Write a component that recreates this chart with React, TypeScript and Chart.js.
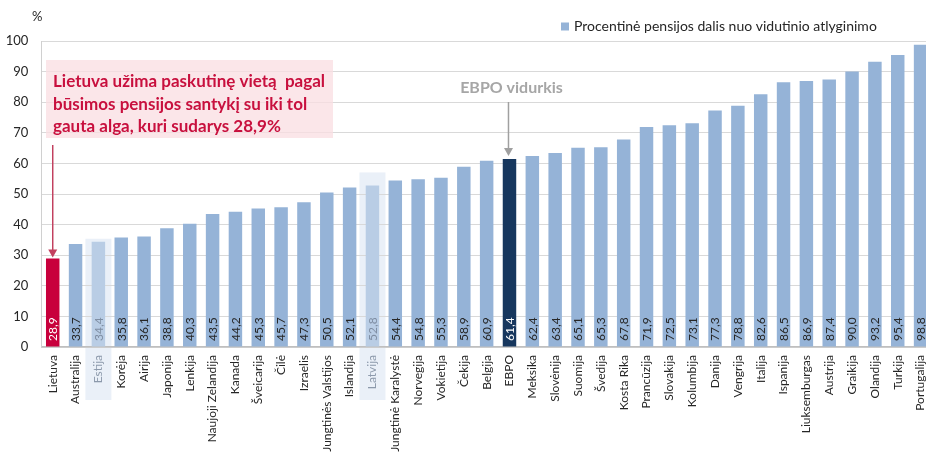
import React, { useEffect, useRef } from "react";
import { Chart, registerables } from "chart.js";

Chart.register(...registerables);

const categories = [
  "Lietuva", "Australija", "Estija", "Korėja", "Airija", "Japonija", "Lenkija",
  "Naujoji Zelandija", "Kanada", "Šveicarija", "Čilė", "Izraelis",
  "Jungtinės Valstijos", "Islandija", "Latvija", "Jungtinė Karalystė", "Norvegija",
  "Vokietija", "Čekija", "Belgija", "EBPO", "Meksika", "Slovėnija", "Suomija",
  "Švedija", "Kosta Rika", "Prancūzija", "Slovakija", "Kolumbija", "Danija",
  "Vengrija", "Italija", "Ispanija", "Liuksemburgas", "Austrija", "Graikija",
  "Olandija", "Turkija", "Portugalija",
];

const values = [
  28.9, 33.7, 34.4, 35.8, 36.1, 38.8, 40.3, 43.5, 44.2, 45.3, 45.7, 47.3,
  50.5, 52.1, 52.8, 54.4, 54.8, 55.3, 58.9, 60.9, 61.4, 62.4, 63.4, 65.1,
  65.3, 67.8, 71.9, 72.5, 73.1, 77.3, 78.8, 82.6, 86.5, 86.9, 87.4, 90.0,
  93.2, 95.4, 98.8,
];

const yTicks = [0, 10, 20, 30, 40, 50, 60, 70, 80, 90, 100];

const seriesLabel = "Procentinė pensijos dalis nuo vidutinio atlyginimo";
const focusCountry = "Lietuva";
const averageName = "EBPO";
const neighbours = ["Estija", "Latvija"];
const noteLines = [
  "Lietuva užima paskutinę vietą  pagal",
  "būsimos pensijos santykį su iki tol",
  "gauta alga, kuri sudarys 28,9%",
];
const averageNote = "EBPO vidurkis";

const FONT = "Lato, 'Open Sans', sans-serif";
const C_BAR = "#95b3d7";
const C_LIGHT = "#b9cde5";
const C_FOCUS = "#c8003c";
const C_AVG = "#17375e";
const C_TEXT = "#262626";

const fmt = (v: number) => v.toFixed(1).replace(".", ",");

function arrow(ctx: CanvasRenderingContext2D, x: number, y1: number, y2: number, color: string) {
  ctx.save();
  ctx.strokeStyle = color;
  ctx.fillStyle = color;
  ctx.lineWidth = 1.5;
  ctx.beginPath();
  ctx.moveTo(x, y1);
  ctx.lineTo(x, y2 - 7);
  ctx.stroke();
  ctx.beginPath();
  ctx.moveTo(x - 4.5, y2 - 8);
  ctx.lineTo(x + 4.5, y2 - 8);
  ctx.lineTo(x, y2);
  ctx.closePath();
  ctx.fill();
  ctx.restore();
}

const decorPlugin = {
  id: "decor",
  beforeDraw(chart: any) {
    const ctx = chart.ctx as CanvasRenderingContext2D;
    const x = chart.scales.x;
    const y = chart.scales.y;
    const pads: Record<string, number> = { Estija: 3, Latvija: 13 };
    ctx.save();
    ctx.fillStyle = "#eaf0f8";
    neighbours.forEach((name) => {
      const i = categories.indexOf(name);
      const cx = x.getPixelForValue(i);
      const top = y.getPixelForValue(values[i]) - (pads[name] ?? 6);
      ctx.fillRect(cx - 13, top, 26, 400 - top);
    });
    ctx.restore();
  },
  afterDatasetsDraw(chart: any) {
    const ctx = chart.ctx as CanvasRenderingContext2D;
    const meta = chart.getDatasetMeta(0);
    const base = chart.scales.y.getPixelForValue(0);
    ctx.save();
    ctx.font = `12px ${FONT}`;
    ctx.textAlign = "left";
    ctx.textBaseline = "middle";
    meta.data.forEach((bar: any, i: number) => {
      const name = categories[i];
      ctx.fillStyle =
        name === focusCountry || name === averageName
          ? "#ffffff"
          : neighbours.includes(name)
          ? "#7f8ea3"
          : C_TEXT;
      ctx.save();
      ctx.translate(bar.x + 0.5, base - 6);
      ctx.rotate(-Math.PI / 2);
      ctx.fillText(fmt(values[i]), 0, 0);
      ctx.restore();
    });
    ctx.restore();
  },
  afterDraw(chart: any) {
    const ctx = chart.ctx as CanvasRenderingContext2D;
    const x = chart.scales.x;
    const y = chart.scales.y;
    ctx.save();
    ctx.fillStyle = C_TEXT;
    ctx.font = `13px ${FONT}`;
    ctx.textAlign = "left";
    ctx.textBaseline = "middle";
    ctx.fillText("%", 32, 17);
    ctx.fillStyle = C_BAR;
    ctx.fillRect(561, 22.5, 8, 8);
    ctx.fillStyle = C_TEXT;
    ctx.font = `14px ${FONT}`;
    ctx.fillText(seriesLabel, 574, 26);
    ctx.fillStyle = "rgba(250, 222, 226, 0.75)";
    ctx.fillRect(46, 60, 287, 78);
    ctx.fillStyle = "#c8103e";
    ctx.font = `bold 17px ${FONT}`;
    ctx.textBaseline = "middle";
    noteLines.forEach((t, k) => ctx.fillText(t, 53, 82 + k * 22.5));
    const fi = categories.indexOf(focusCountry);
    arrow(ctx, x.getPixelForValue(fi), 145, y.getPixelForValue(values[fi]) - 1, "#c2405f");
    const ai = categories.indexOf(averageName);
    const ax = x.getPixelForValue(ai);
    ctx.fillStyle = "#a6a6a6";
    ctx.font = `bold 16px ${FONT}`;
    ctx.textAlign = "center";
    ctx.fillText(averageNote, ax + 2, 88);
    arrow(ctx, ax - 1, 102, y.getPixelForValue(values[ai]) - 3, "#a0a0a0");
    ctx.restore();
  },
};

export default function App() {
  const ref = useRef<HTMLCanvasElement | null>(null);

  useEffect(() => {
    document.body.style.overflow = "hidden";
    const canvas = ref.current!;
    const colors = categories.map((n) =>
      n === focusCountry ? C_FOCUS : n === averageName ? C_AVG : neighbours.includes(n) ? C_LIGHT : C_BAR
    );
    const chart = new Chart(canvas, {
      type: "bar",
      data: {
        labels: categories,
        datasets: [
          {
            label: seriesLabel,
            data: values,
            backgroundColor: colors,
            barPercentage: 0.59,
            categoryPercentage: 1,
          },
        ],
      },
      options: {
        animation: false,
        responsive: false,
        devicePixelRatio: 1,
        layout: { padding: { top: 41, left: 0, right: 0, bottom: 0 } },
        plugins: {
          legend: { display: false },
          tooltip: { enabled: false },
          title: { display: false },
        },
        scales: {
          x: {
            grid: { display: false, drawTicks: false },
            border: { display: true, color: "#bfbfbf", width: 1.5 },
            ticks: {
              autoSkip: false,
              minRotation: 90,
              maxRotation: 90,
              padding: 8,
              font: { family: FONT, size: 12 },
              color: (c: any) =>
                neighbours.includes(categories[c.index]) ? "#8c99ab" : C_TEXT,
            },
            afterFit: (s: any) => {
              s.height = 109;
              s.paddingLeft = 0;
              s.paddingRight = 0;
            },
          },
          y: {
            min: 0,
            max: 100,
            afterBuildTicks: (s: any) => {
              s.ticks = yTicks.map((v) => ({ value: v }));
            },
            grid: { color: "#d9d9d9", drawTicks: false },
            border: { display: true, color: "#d0d0d0" },
            ticks: {
              padding: 13,
              font: { family: FONT, size: 13 },
              color: C_TEXT,
            },
            afterFit: (s: any) => {
              s.width = 41.3;
              s.paddingTop = 0;
              s.paddingBottom = 0;
            },
          },
        },
      },
      plugins: [decorPlugin],
    });
    return () => chart.destroy();
  }, []);

  return (
    <div style={{ position: "fixed", left: 0, top: 0, width: 932, height: 456, background: "#fff" }}>
      <canvas ref={ref} width={932} height={456} style={{ width: 932, height: 456, display: "block" }} />
    </div>
  );
}
